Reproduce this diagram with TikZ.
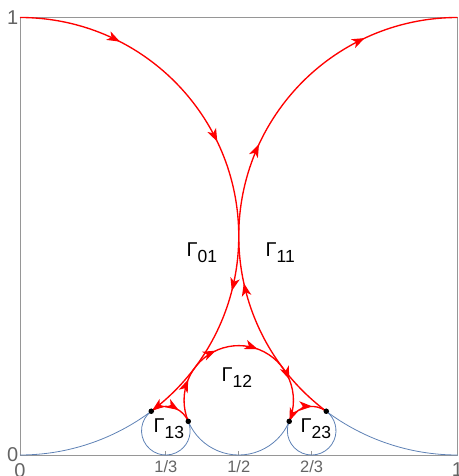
\documentclass[tikz,border=0pt]{standalone}
\usepackage{fontspec}
\setmainfont{Liberation Sans}
\usepackage{tikz}
\usetikzlibrary{arrows.meta,decorations.markings}
\definecolor{mmablue}{RGB}{94,129,181}
\definecolor{framegray}{RGB}{150,150,150}
\definecolor{tickgray}{RGB}{100,100,100}
\newcommand{\glab}[1]{\fontsize{20}{24}\selectfont Γ\raisebox{-5.5pt}{\fontsize{17.5}{20}\selectfont #1}}

\begin{document}
\begin{tikzpicture}[x=437.5pt, y=437.5pt,
  redarc/.style={red, line width=1.35pt},
  bluearc/.style={mmablue, line width=0.8pt},
  arr/.style={postaction={decorate, decoration={markings, mark=at position #1 with {\arrow{Stealth[length=13pt,width=9.5pt,inset=3.5pt]}}}}},
  ticklab/.style={text=tickgray, inner sep=0pt, font=\fontsize{16.5}{18}\selectfont},
  sidelab/.style={text=tickgray, inner sep=0pt, font=\fontsize{20}{24}\selectfont},
  tdot/.style={circle, fill=black, inner sep=0pt, minimum size=5.5pt}]
  \useasboundingbox (-20pt,-21pt) rectangle (438pt,455pt);
  % tangent points of the Ford circles
  \coordinate (top0) at (0,1);
  \coordinate (top1) at (1,1);
  \coordinate (t0) at (0.3,0.1);
  \coordinate (t1) at (5/13,1/13);
  \coordinate (t2) at (8/13,1/13);
  \coordinate (t3) at (0.7,0.1);
  \draw[framegray, line width=0.8pt] (0,0) rectangle (1,1);
  \draw[framegray, line width=0.8pt] (1/3,0) -- ++(0,4pt) (1/2,0) -- ++(0,4pt) (2/3,0) -- ++(0,4pt);
  % lower parts in blue
  \draw[bluearc] (0,0) arc[start angle=-90, end angle=-53.1301, radius=0.5];
  \draw[bluearc] (t3) arc[start angle=-126.8699, end angle=-90, radius=0.5];
  \draw[bluearc] (t0) arc[start angle=126.8699, end angle=382.6199, radius=0.055556];
  \draw[bluearc] (t1) arc[start angle=-157.3801, end angle=-22.6199, radius=0.125];
  \draw[bluearc] (t2) arc[start angle=157.3801, end angle=413.1301, radius=0.055556];
  % the path
  \draw[redarc, arr=0.19, arr=0.45, arr=0.73, arr=0.998] (top0) arc[start angle=90, end angle=-53.1301, radius=0.5];
  \draw[redarc, arr=0.66] (t0) arc[start angle=126.8699, end angle=22.6199, radius=0.055556];
  \draw[redarc, arr=0.2, arr=0.39, arr=0.59, arr=0.8, arr=0.998] (t1) arc[start angle=202.6199, end angle=-22.6199, radius=0.125];
  \draw[redarc, arr=0.66] (t2) arc[start angle=157.3801, end angle=53.1301, radius=0.055556];
  \draw[redarc, arr=0.285, arr=0.545, arr=0.825] (t3) arc[start angle=233.1301, end angle=90, radius=0.5];
  \node[tdot] (d0) at (t0) {};
  \node[tdot] (d1) at (t1) {};
  \node[tdot] (d2) at (t2) {};
  \node[tdot] (d3) at (t3) {};
  % labels
  \node[anchor=base west, inner sep=0pt] (g01) at (0.3806,0.4526) {\glab{01}};
  \node[anchor=base west, inner sep=0pt] (g11) at (0.5611,0.4526) {\glab{11}};
  \node[anchor=base west, inner sep=0pt] (g12) at (0.4606,0.1669) {\glab{12}};
  \node[anchor=base west, inner sep=0pt] (g13) at (0.3051,0.0503) {\glab{13}};
  \node[anchor=base west, inner sep=0pt] (g23) at (0.6411,0.0503) {\glab{23}};
  % ticks
  \node[sidelab, anchor=east, xshift=-1.5pt] (y1) at (0,1) {1};
  \node[sidelab, anchor=east, xshift=-1.5pt] (y0) at (0,0) {0};
  \node[sidelab, anchor=north, yshift=-8pt] (x0) at (0,0) {0};
  \node[ticklab, anchor=north, yshift=-5pt] (x13) at (1/3,0) {1/3};
  \node[ticklab, anchor=north, yshift=-5pt] (x12) at (1/2,0) {1/2};
  \node[ticklab, anchor=north, yshift=-5pt] (x23) at (2/3,0) {2/3};
  \node[sidelab, anchor=north, yshift=-8pt] (x1) at (1,0) {1};
\end{tikzpicture}
\end{document}
